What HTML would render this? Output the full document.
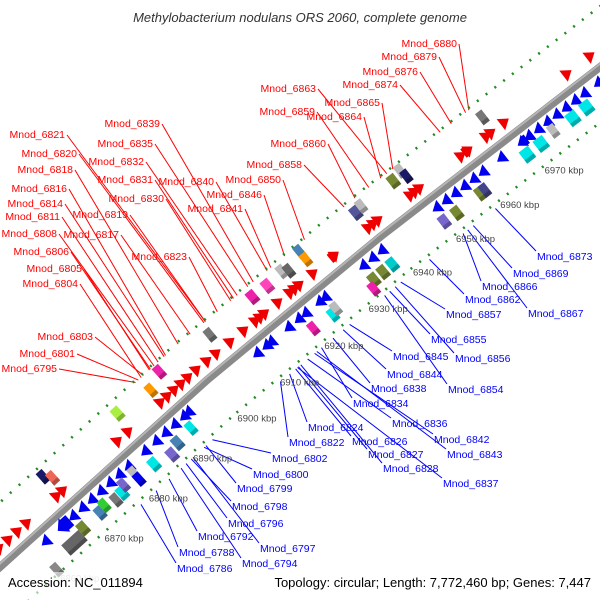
<!DOCTYPE html>
<html><head><meta charset="utf-8"><style>
html,body{margin:0;padding:0;background:#fff;}
svg{display:block;font-family:"Liberation Sans",sans-serif;}
</style></head><body>
<svg id="map" width="600" height="600" viewBox="0 0 600 600" xmlns="http://www.w3.org/2000/svg">
<rect x="0" y="0" width="600" height="600" fill="#fff"/>
<text x="300" y="22" text-anchor="middle" font-style="italic" font-size="13" fill="#333">Methylobacterium nodulans ORS 2060, complete genome</text>
<g id="gLines"></g>
<g id="gAxis"></g>
<g id="gFeat"></g>
<g id="gText"></g>
<rect x="0" y="572" width="600" height="28" fill="#fff" opacity="0.6"/>
<text x="8" y="587" font-size="13" fill="#000">Accession: NC_011894</text>
<text x="591" y="587" text-anchor="end" font-size="13" fill="#000">Topology: circular; Length: 7,772,460 bp; Genes: 7,447</text>
</svg>
<script>
// ---- data ----
const tickKbp = [6860,6870,6880,6890,6900,6910,6920,6930,6940,6950,6960,6970];
const tickLabels = ["6860 kbp","6870 kbp","6880 kbp","6890 kbp","6900 kbp","6910 kbp","6920 kbp","6930 kbp","6940 kbp","6950 kbp","6960 kbp","6970 kbp"];
// features
const redArrows = [6858,6860,6862,6864,6870.5,6871.8,6883.7,6886,6893,6894.5,6896,6897.5,6899,6900.8,6903,6905,6908,6911,6913.5,6914.5,6915.5,6918.4,6921,6922,6923,6926,6930.5,6938,6939,6940,6947,6948,6949,6958,6959.4,6963.5,6964.5,6967.4,6981,6986];
const redLens = [1.5,1.5,1.5,1.5,1.2,1.2,1.5,1.2,1.2,1.2,1.2,1.2,1.2,2,1.5,1.5,1.5,1.5,1,1,1,1.5,1,1,1,2,2.5,1,1,1,1,1,1,1,2.5,1,1,1,1.2,2];
const blueArrows = [6864,6868,6870,6872,6874,6876,6878,6880,6882,6885.6,6888,6890,6892,6894,6895,6910,6912,6913,6916.8,6919,6920.5,6923.5,6924.7,6933,6935,6937,6949,6951,6953,6955,6957,6959,6963,6967.6,6969,6971,6973,6975,6977,6979,6981,6984,6988];
const blueLens = [1.5,3.5,2,1.5,1.5,1.5,1.5,1.5,1.5,1.5,1.5,1.5,1.5,1.5,1,1.2,1.2,1.2,1.2,1.2,1.2,1.2,1.2,1,1,1,1.5,1.5,1.5,1.5,1.5,1.5,1,2.5,1.3,1.3,1.3,1.3,1.3,1.3,1.3,1.3,1.3];
const boxes = [
 [6870.8,-38,1.5,"#1a1a66"],[6871.8,-31,1.5,"#ee6655"],[6886.5,-35,2,"#aaee44"],[6893,-30,1.2,"#ff9900"],
 [6896,-38,1.8,"#ee22aa"],[6906,-33,1.5,"#777777"],[6915.5,-35,2,"#ee22aa"],[6918.6,-34,2,"#ff44bb"],
 [6922,-36,1.6,"#bbbbbb"],[6923,-32,1.2,"#666666"],[6926.4,-40,1.5,"#4682b4"],[6926.4,-30,1.5,"#ff9900"],
 [6937.8,-34,2,"#555599"],[6939,-36,1.2,"#bbbbbb"],[6946,-36,2,"#778833"],[6948,-40,1.2,"#bbbbbb"],[6948.3,-32,1.2,"#1a1a66"],[6964.8,-32,1.5,"#777777"],
 [6867.4,32,5,"#666666"],[6870,27,2,"#778833"],[6862.4,40,1.5,"#888888"],[6873.7,27,1.8,"#4682b4"],[6875,24,1,"#33cc33"],
 [6877,28,1.2,"#777777"],[6878.5,27,2,"#00e5e5"],[6879.5,22,1.5,"#7766cc"],[6882,20,1.2,"#bbbbbb"],[6882,28,1.2,"#0000ee"],
 [6885.4,27,2,"#00e5e5"],[6888.6,32,2,"#7766cc"],[6890.5,27,2,"#4682b4"],[6893.7,25,1.5,"#00e5e5"],[6920,28,0.8,"#ee22aa"],
 [6924,30,1.3,"#00e5e5"],[6925,27,1.3,"#bbbbbb"],[6933,29,2,"#778833"],[6935,29,2,"#778833"],[6937,29,2,"#00cccc"],[6932,36,0.8,"#ee22aa"],
 [6948.7,27,2,"#7766cc"],[6951.3,28,2,"#778833"],[6956.5,27,1.5,"#778833"],[6957.5,27,1.5,"#444488"],
 [6967,25,2.5,"#00e5e5"],[6970,25,2.5,"#00e5e5"],[6973,22,1.5,"#bbbbbb"],[6977,24,2.5,"#00e5e5"],[6980,24,2.5,"#00e5e5"],[6988,24,1.5,"#7766cc"]
];
const redNames = ["Mnod_6880","Mnod_6879","Mnod_6876","Mnod_6874","Mnod_6865","Mnod_6863","Mnod_6864","Mnod_6859","Mnod_6860","Mnod_6858","Mnod_6850","Mnod_6846","Mnod_6841","Mnod_6840","Mnod_6839","Mnod_6835","Mnod_6832","Mnod_6831","Mnod_6830","Mnod_6823","Mnod_6821","Mnod_6820","Mnod_6819","Mnod_6818","Mnod_6817","Mnod_6816","Mnod_6814","Mnod_6811","Mnod_6808","Mnod_6806","Mnod_6805","Mnod_6804","Mnod_6803","Mnod_6801","Mnod_6795"];
const redLabelPos = [[457,47],[437,60],[418,75],[398,88],[380,106],[316,92],[362,120],[315,115],[326,147],[302,168],[281,183],[262,198],[243,212],[214,185],[160,127],[153,147],[144,165],[153,183],[164,202],[187,260],[65,138],[77,157],[128,218],[73,173],[119,238],[67,192],[63,207],[60,220],[57,237],[69,255],[82,272],[78,287],[93,340],[75,357],[57,372]];
const redTargets = [6963.7,6963,6959.9,6957.5,6947.2,6945.9,6944.6,6942,6939,6936.9,6928.3,6924,6921,6920.2,6917.2,6916,6913.7,6912.9,6912.3,6909.4,6906.8,6906.5,6906.8,6900.9,6903.5,6898.5,6898.2,6896.9,6896,6895.2,6895,6893.2,6893.7,6892.6,6892];
const blueNames = ["Mnod_6873","Mnod_6869","Mnod_6866","Mnod_6862","Mnod_6867","Mnod_6857","Mnod_6855","Mnod_6856","Mnod_6845","Mnod_6844","Mnod_6854","Mnod_6838","Mnod_6834","Mnod_6836","Mnod_6824","Mnod_6842","Mnod_6822","Mnod_6826","Mnod_6843","Mnod_6802","Mnod_6827","Mnod_6828","Mnod_6800","Mnod_6837","Mnod_6799","Mnod_6798","Mnod_6796","Mnod_6792","Mnod_6797","Mnod_6788","Mnod_6794","Mnod_6786"];
const blueLabelPos = [[537,260],[513,277],[482,290],[465,303],[528,317],[446,318],[431,343],[455,362],[393,360],[387,378],[448,393],[371,392],[353,407],[392,427],[308,431],[434,443],[289,446],[352,445],[447,458],[272,462],[368,458],[383,472],[253,478],[443,487],[237,492],[232,510],[228,527],[198,540],[260,552],[179,556],[242,567],[177,572]];
const blueTargets = [6957,6952.2,6950,6942.7,6951,6936.2,6933.8,6935,6925.1,6923.7,6932.7,6921.5,6919,6916,6912.1,6917.5,6910.1,6913.4,6918,6895,6914,6914.5,6893.2,6913.8,6893.6,6890.4,6889.3,6885.6,6890.8,6882.8,6888.2,6879.5];

// ---- geometry ----
const NS="http://www.w3.org/2000/svg";
const P=[[-40,603],[0,567],[207,380],[380,237],[600,67],[640,36]];
function seg(x){for(let i=0;i<P.length-1;i++){if(x<=P[i+1][0]||i===P.length-2)return i;}return 0;}
function pt(kbp,lane){
  const x=65+(kbp-6870)*4.61;
  const i=seg(x);const a=P[i],b=P[i+1];
  const f=(x-a[0])/(b[0]-a[0]);const y=a[1]+f*(b[1]-a[1]);
  let tx=b[0]-a[0],ty=b[1]-a[1];const L=Math.hypot(tx,ty);tx/=L;ty/=L;
  const nx=-ty,ny=tx;
  return {x:x+lane*nx,y:y+lane*ny,tx:tx,ty:ty,nx:nx,ny:ny};
}
function mk(tag,attrs,parent){const e=document.createElementNS(NS,tag);for(const k in attrs)e.setAttribute(k,attrs[k]);parent.appendChild(e);return e;}
const gA=document.getElementById('gAxis'),gF=document.getElementById('gFeat'),gL=document.getElementById('gLines'),gT=document.getElementById('gText');

const bb=mk('polyline',{points:P.map(p=>p.join(',')).join(' '),fill:'none',stroke:'#8a8a8a','stroke-width':8},gA);


const bbh=mk('polyline',{points:P.map(p=>(p[0]-1.5)+','+(p[1]-2)).join(' '),fill:'none',stroke:'#b5b5b5','stroke-width':2},gA);



for(const lane of [-48,44]){
  for(let k=6850;k<=6995;k+=1.9){
    const p=pt(k,lane);
    const long=Math.abs(((k-6850)/1.9)%5)<0.01;
    const len=long?3.5:1;
    const d=mk('line',{x1:p.x-p.tx*len,y1:p.y-p.ty*len,x2:p.x+p.tx*len,y2:p.y+p.ty*len,stroke:'#228b22','stroke-width':2.6},gA);
    
    
  }
}
tickKbp.forEach((k,i)=>{
  const p=pt(6870+(k-6870)*0.961,50);
  const t=mk('text',{x:p.x+6,y:p.y-4,'font-size':9.5,fill:k<6865?'#ccc':'#444'},gA);
  t.textContent=tickLabels[i];
  
  
});

function poly(pts,fill,parent){return mk('polygon',{points:pts.map(p=>p[0].toFixed(1)+','+p[1].toFixed(1)).join(' '),fill:fill},parent);}
function arrow(kbp,lane,lenK,color,dir,h){
  const c=pt(kbp,lane);const L=Math.max(lenK*4.61,10);
  const dx=c.tx*dir,dy=c.ty*dir;
  const rx=c.x-dx*L/2,ry=c.y-dy*L/2;
  const hx=c.nx*h/2,hy=c.ny*h/2;
  const head=Math.min(L,9);
  let pts;
  if(L<=11){pts=[[rx+hx,ry+hy],[rx-hx,ry-hy],[rx+dx*L,ry+dy*L]];}
  else{const nx=rx+dx*(L-head),ny=ry+dy*(L-head);
    pts=[[rx+hx*0.75,ry+hy*0.75],[nx+hx*0.75,ny+hy*0.75],[nx+hx,ny+hy],[rx+dx*L,ry+dy*L],[nx-hx,ny-hy],[nx-hx*0.75,ny-hy*0.75],[rx-hx*0.75,ry-hy*0.75]];}
  const e=poly(pts,color,gF);
  
  
}
redArrows.forEach((k,i)=>arrow(k,-15,redLens[i],'#ee0000',1,14));
blueArrows.forEach((k,i)=>arrow(k,12,blueLens[i],'#0000ee',-1,blueLens[i]>3?18:14));
boxes.forEach(b=>{
  const c=pt(b[0],b[1]);const L=Math.max(b[2]*4.61,8),h=14;
  const ax=c.tx*L/2,ay=c.ty*L/2,hx=c.nx*h/2,hy=c.ny*h/2;
  const e=poly([[c.x-ax-hx,c.y-ay-hy],[c.x+ax-hx,c.y+ay-hy],[c.x+ax+hx,c.y+ay+hy],[c.x-ax+hx,c.y-ay+hy]],b[3],gF);
  
  
  const s=poly([[c.x-ax+hx,c.y-ay+hy],[c.x+ax+hx,c.y+ay+hy],[c.x+ax+hx*0.4,c.y+ay+hy*0.4],[c.x-ax+hx*0.4,c.y-ay+hy*0.4]],'rgba(0,0,0,0.25)',gF);
  
  
});

redNames.forEach((n,i)=>{
  const [x,y]=redLabelPos[i];const p=pt(redTargets[i],-46);
  const l=mk('line',{x1:x+2,y1:y-3,x2:p.x,y2:p.y,stroke:'#ff0000','stroke-width':1},gL);
  
  
  const t=mk('text',{x:x,y:y,'text-anchor':'end','font-size':10.5,fill:'#ff0000'},gT);
  t.textContent=n;
  
  
});
blueNames.forEach((n,i)=>{
  const [x,y]=blueLabelPos[i];const p=pt(blueTargets[i],48);
  const l=mk('line',{x1:x-1,y1:y-9,x2:p.x,y2:p.y,stroke:'#0000ff','stroke-width':1},gL);
  
  
  const t=mk('text',{x:x,y:y,'font-size':10.5,fill:'#0000ff'},gT);
  t.textContent=n;
  
  
});
</script>
</body></html>
